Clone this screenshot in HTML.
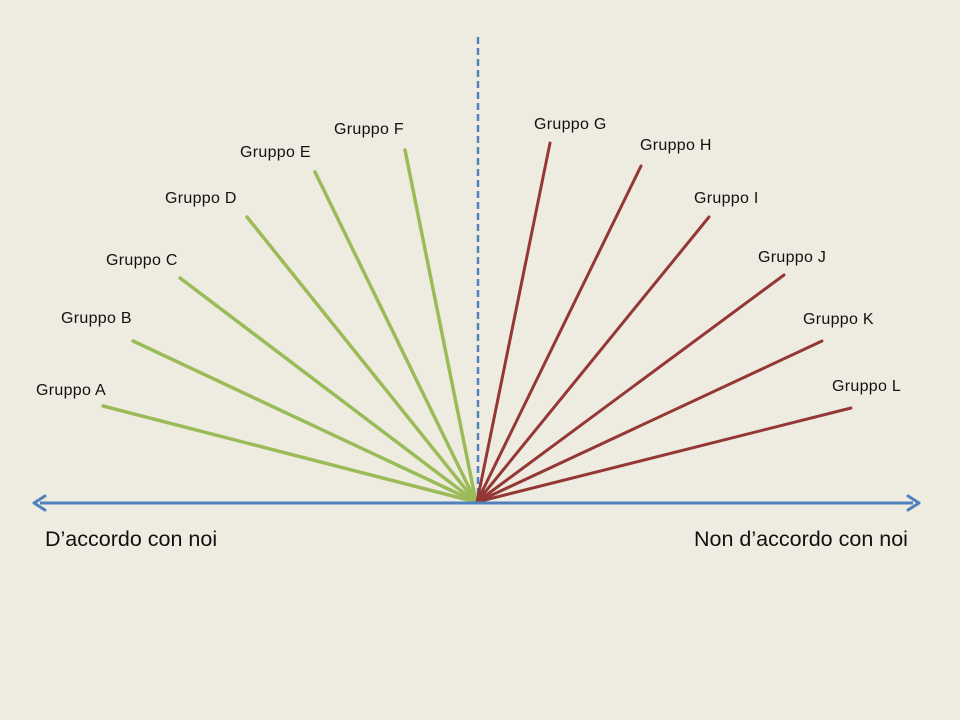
<!DOCTYPE html>
<html><head><meta charset="utf-8"><style>
html,body{margin:0;padding:0}
body{width:960px;height:720px;background:#EEECE1;overflow:hidden;position:relative;font-family:"Liberation Sans",sans-serif}
.l{position:absolute;font-size:16px;letter-spacing:0.3px;color:#111;line-height:18px;white-space:nowrap}
.b{position:absolute;font-size:21.5px;color:#111;line-height:24px;white-space:nowrap}
</style></head><body>
<svg width="960" height="720" style="position:absolute;left:0;top:0">
<line x1="478" y1="37" x2="478" y2="500" stroke="#4F81BD" stroke-width="2.5" stroke-dasharray="7,4"/>
<g stroke="#9BBB59" stroke-width="3.5" stroke-linecap="round">
<line x1="476" y1="502" x2="103" y2="406"/>
<line x1="476" y1="502" x2="133" y2="341"/>
<line x1="476" y1="502" x2="180" y2="278"/>
<line x1="476" y1="502" x2="247" y2="217"/>
<line x1="476" y1="502" x2="315" y2="172"/>
<line x1="476" y1="502" x2="405" y2="150"/>
</g>
<g stroke="#953735" stroke-width="3" stroke-linecap="round">
<line x1="477" y1="502" x2="550" y2="143"/>
<line x1="477" y1="502" x2="641" y2="166"/>
<line x1="477" y1="502" x2="709" y2="217"/>
<line x1="477" y1="502" x2="784" y2="275"/>
<line x1="477" y1="502" x2="822" y2="341"/>
<line x1="477" y1="502" x2="851" y2="408"/>
</g>
<line x1="40" y1="503" x2="913" y2="503" stroke="#4F81BD" stroke-width="3"/>
<path d="M34,503 L45,496 M34,503 L45,510" stroke="#4F81BD" stroke-width="3" fill="none" stroke-linecap="round"/>
<path d="M919,503 L908,496 M919,503 L908,510" stroke="#4F81BD" stroke-width="3" fill="none" stroke-linecap="round"/>
</svg>
<div class="l" style="left:36px;top:382px">Gruppo A</div>
<div class="l" style="left:61px;top:310px">Gruppo B</div>
<div class="l" style="left:106px;top:252px">Gruppo C</div>
<div class="l" style="left:165px;top:190px">Gruppo D</div>
<div class="l" style="left:240px;top:144px">Gruppo E</div>
<div class="l" style="left:334px;top:121px">Gruppo F</div>
<div class="l" style="left:534px;top:116px">Gruppo G</div>
<div class="l" style="left:640px;top:137px">Gruppo H</div>
<div class="l" style="left:694px;top:190px">Gruppo I</div>
<div class="l" style="left:758px;top:249px">Gruppo J</div>
<div class="l" style="left:803px;top:311px">Gruppo K</div>
<div class="l" style="left:832px;top:378px">Gruppo L</div>
<div class="b" style="left:45px;top:527px">D’accordo con noi</div>
<div class="b" style="left:694px;top:527px">Non d’accordo con noi</div>
</body></html>
